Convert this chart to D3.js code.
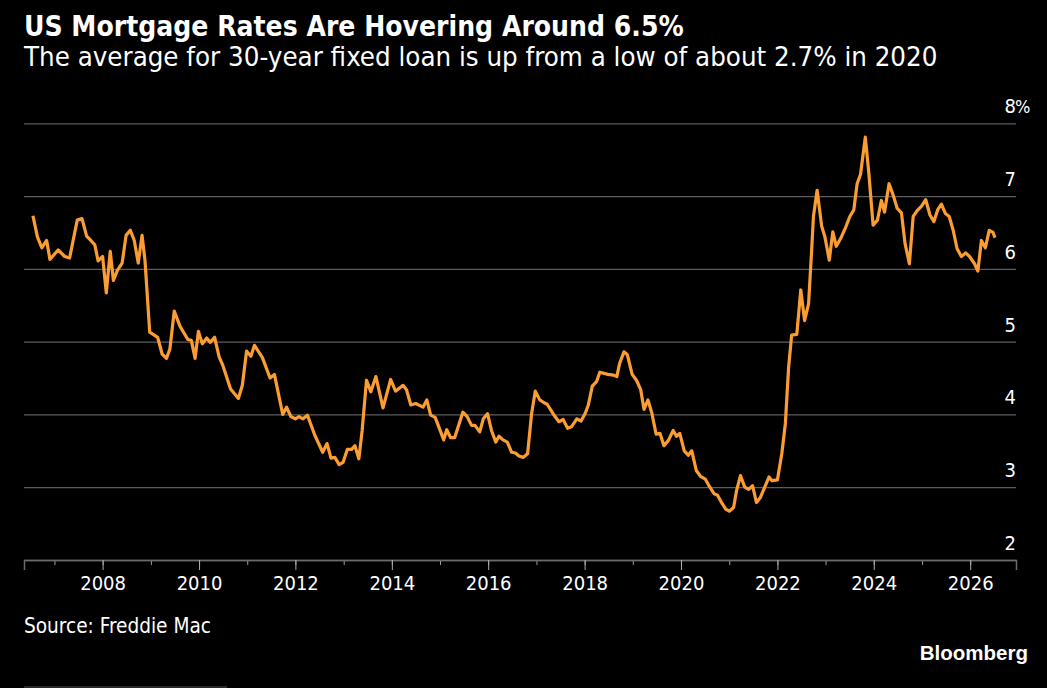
<!DOCTYPE html>
<html>
<head>
<meta charset="utf-8">
<script src="https://cdn.jsdelivr.net/npm/d3@7"></script>
<style>
  html, body { margin: 0; padding: 0; background: #000; }
  svg { display: block; }
  text { font-family: "DejaVu Sans Condensed", "DejaVu Sans", sans-serif; fill: #fff; }
</style>
</head>
<body>
<div id="chartContainer"></div>
<script>
/* US mortgage rates, 30-year fixed, Freddie Mac */

const titleText = "US Mortgage Rates Are Hovering Around 6.5%";
const subtitleText = "The average for 30-year fixed loan is up from a low of about 2.7% in 2020";
const sourceText = "Source: Freddie Mac";

const yTicks = [2, 3, 4, 5, 6, 7, 8];

const dates = [
  "2006-07-22", "2006-08-25", "2006-09-27", "2006-11-03", "2006-11-28",
  "2007-01-29", "2007-03-20", "2007-04-26", "2007-06-23", "2007-07-29",
  "2007-09-02", "2007-10-04", "2007-11-03", "2007-11-28", "2008-01-01",
  "2008-01-29", "2008-02-28", "2008-03-23", "2008-04-22", "2008-05-28",
  "2008-06-27", "2008-07-29", "2008-08-28", "2008-09-27", "2008-10-26",
  "2008-11-17", "2008-12-23", "2009-02-21", "2009-03-27", "2009-04-29",
  "2009-05-25", "2009-06-27", "2009-08-10", "2009-10-08", "2009-11-03",
  "2009-12-02", "2009-12-27", "2010-01-26", "2010-02-28", "2010-03-27",
  "2010-04-29", "2010-06-02", "2010-07-01", "2010-08-28", "2010-10-26",
  "2010-11-25", "2010-12-27", "2011-01-29", "2011-02-25", "2011-04-26",
  "2011-06-23", "2011-07-26", "2011-09-27", "2011-10-26", "2011-11-28",
  "2012-01-01", "2012-01-29", "2012-02-28", "2012-04-01", "2012-05-28",
  "2012-07-26", "2012-08-28", "2012-09-27", "2012-10-26", "2012-11-28",
  "2012-12-27", "2013-01-29", "2013-03-02", "2013-03-27", "2013-04-26",
  "2013-05-21", "2013-06-23", "2013-07-26", "2013-09-02", "2013-10-26",
  "2013-12-23", "2014-01-29", "2014-03-27", "2014-04-22", "2014-05-25",
  "2014-07-01", "2014-08-25", "2014-09-23", "2014-10-22", "2014-11-25",
  "2014-12-23", "2015-01-29", "2015-02-21", "2015-03-23", "2015-04-22",
  "2015-06-23", "2015-07-26", "2015-08-28", "2015-09-23", "2015-10-29",
  "2015-11-25", "2015-12-27", "2016-01-26", "2016-02-28", "2016-03-23",
  "2016-04-22", "2016-05-25", "2016-06-27", "2016-07-26", "2016-08-21",
  "2016-09-23", "2016-10-26", "2016-11-25", "2016-12-23", "2017-01-26",
  "2017-02-28", "2017-03-23", "2017-05-07", "2017-06-20", "2017-07-22",
  "2017-08-25", "2017-09-23", "2017-11-03", "2017-12-05", "2018-01-04",
  "2018-01-29", "2018-02-28", "2018-04-01", "2018-04-26", "2018-06-27",
  "2018-08-07", "2018-09-02", "2018-09-23", "2018-10-26", "2018-11-21",
  "2018-12-27", "2019-01-29", "2019-03-02", "2019-03-27", "2019-04-26",
  "2019-05-25", "2019-06-27", "2019-07-26", "2019-08-25", "2019-09-27",
  "2019-11-03", "2019-11-28", "2019-12-23", "2020-01-26", "2020-02-25",
  "2020-03-23", "2020-04-26", "2020-05-28", "2020-07-04", "2020-08-07",
  "2020-09-09", "2020-10-04", "2020-11-10", "2020-12-05", "2021-01-01",
  "2021-02-03", "2021-02-25", "2021-03-27", "2021-04-29", "2021-05-28",
  "2021-06-27", "2021-07-26", "2021-08-25", "2021-09-27", "2021-10-29",
  "2021-11-21", "2022-01-01", "2022-02-03", "2022-03-02", "2022-03-27",
  "2022-04-19", "2022-05-28", "2022-06-27", "2022-07-26", "2022-08-25",
  "2022-09-16", "2022-10-01", "2022-10-29", "2022-12-02", "2022-12-27",
  "2023-01-29", "2023-02-25", "2023-03-23", "2023-04-26", "2023-06-02",
  "2023-07-04", "2023-08-03", "2023-08-28", "2023-09-23", "2023-10-29",
  "2023-11-25", "2023-12-27", "2024-01-29", "2024-02-28", "2024-03-23",
  "2024-04-26", "2024-05-28", "2024-06-27", "2024-07-29", "2024-08-25",
  "2024-09-27", "2024-10-26", "2024-11-25", "2024-12-27", "2025-01-29",
  "2025-03-02", "2025-04-01", "2025-04-29", "2025-05-28", "2025-06-27",
  "2025-07-26", "2025-08-25", "2025-09-23", "2025-10-26", "2025-11-28",
  "2025-12-27", "2026-02-03", "2026-02-28", "2026-03-27", "2026-04-26",
  "2026-05-25", "2026-06-23", "2026-07-08"
];

const rates = [
  6.73, 6.44, 6.29, 6.39, 6.13,
  6.26, 6.17, 6.15, 6.67, 6.69,
  6.45, 6.39, 6.33, 6.11, 6.17,
  5.67, 6.24, 5.84, 5.98, 6.08,
  6.46, 6.53, 6.39, 6.08, 6.46,
  6.12, 5.13, 5.06, 4.83, 4.77,
  4.90, 5.42, 5.21, 5.03, 5.02,
  4.77, 5.14, 4.97, 5.05, 4.99,
  5.06, 4.79, 4.67, 4.35, 4.22,
  4.40, 4.87, 4.80, 4.95, 4.78,
  4.50, 4.55, 4.00, 4.10, 3.97,
  3.94, 3.97, 3.94, 3.99, 3.71,
  3.48, 3.60, 3.40, 3.41, 3.31,
  3.34, 3.52, 3.52, 3.57, 3.39,
  3.78, 4.47, 4.31, 4.52, 4.09,
  4.48, 4.32, 4.40, 4.34, 4.13,
  4.15, 4.10, 4.20, 3.99, 3.96,
  3.83, 3.65, 3.79, 3.68, 3.68,
  4.03, 3.97, 3.85, 3.85, 3.76,
  3.94, 4.01, 3.78, 3.62, 3.70,
  3.65, 3.62, 3.48, 3.47, 3.43,
  3.41, 3.46, 4.01, 4.32, 4.20,
  4.16, 4.14, 4.01, 3.90, 3.93,
  3.81, 3.83, 3.94, 3.91, 4.01,
  4.13, 4.39, 4.45, 4.58, 4.55,
  4.54, 4.52, 4.70, 4.86, 4.82,
  4.55, 4.47, 4.34, 4.07, 4.20,
  4.02, 3.73, 3.74, 3.57, 3.64,
  3.78, 3.70, 3.74, 3.50, 3.44,
  3.50, 3.23, 3.15, 3.11, 3.00,
  2.91, 2.89, 2.77, 2.70, 2.67,
  2.72, 2.95, 3.16, 3.00, 2.97,
  3.02, 2.79, 2.86, 3.00, 3.14,
  3.09, 3.10, 3.46, 3.87, 4.65,
  5.09, 5.10, 5.71, 5.29, 5.52,
  6.21, 6.72, 7.08, 6.59, 6.44,
  6.12, 6.51, 6.31, 6.42, 6.57,
  6.72, 6.81, 7.17, 7.30, 7.81,
  7.31, 6.60, 6.67, 6.94, 6.78,
  7.17, 7.01, 6.83, 6.77, 6.35,
  6.07, 6.72, 6.80, 6.86, 6.95,
  6.74, 6.65, 6.81, 6.89, 6.76,
  6.72, 6.53, 6.28, 6.17, 6.22,
  6.17, 6.07, 5.97, 6.39, 6.29,
  6.53, 6.50, 6.43
];

((d3) => {
  'use strict';

  const size = { width: 1047, height: 688 };
  const plot = { left: 24, right: 1016, top: 123.3, bottom: 560 };
  const lineColor = "#fb9d32";
  const gridColor = "#5c5c5c";

  const parseDate = d3.timeParse("%Y-%m-%d");
  const series = dates.map((d, i) => ({ x: parseDate(d), y: rates[i] }));

  const svg = d3.select("#chartContainer")
    .append("svg")
    .attr("width", size.width)
    .attr("height", size.height);

  svg.append("rect")
    .attr("width", size.width)
    .attr("height", size.height)
    .attr("fill", "#000");

  // x scale: calibrated on 2008 and 2026 ticks, then widened to the plot edges
  const xScale = d3.scaleTime()
    .domain([new Date(2008, 0, 1), new Date(2026, 0, 1)])
    .range([102.6, 970.2]);
  xScale.domain([xScale.invert(plot.left), xScale.invert(plot.right)])
    .range([plot.left, plot.right]);

  const yScale = d3.scaleLinear()
    .domain([2, 8])
    .range([plot.bottom, plot.top]);

  // titles
  svg.append("text")
    .attr("x", 24)
    .attr("y", 36)
    .style("font-weight", "bold")
    .style("font-size", "28px")
    .text(titleText);

  svg.append("text")
    .attr("x", 24)
    .attr("y", 66)
    .style("font-size", "27.4px")
    .text(subtitleText);

  // y grid + labels (labels sit above the line, right aligned)
  const yAxis = d3.axisLeft(yScale)
    .tickValues(yTicks)
    .tickSize(plot.right - plot.left)
    .tickFormat(d => d);

  const yGrid = svg.append("g")
    .attr("class", "y axis")
    .attr("transform", "translate(" + plot.right + ",0)")
    .call(yAxis);

  yGrid.select(".domain").remove();
  yGrid.selectAll(".tick line")
    .attr("stroke", gridColor)
    .attr("stroke-width", 1.3);
  yGrid.selectAll(".tick text")
    .attr("x", 0)
    .attr("y", -10.5)
    .attr("dy", 0)
    .attr("text-anchor", "end")
    .style("font-size", "20px")
    .attr("fill", "#fff");

  yGrid.selectAll(".tick")
    .filter(d => d === d3.max(yTicks))
    .append("text")
    .attr("x", -1)
    .attr("y", -10.5)
    .attr("text-anchor", "start")
    .style("font-size", "18px")
    .attr("fill", "#fff")
    .text("%");

  // x axis: odd years get a short tick, even years a long tick and label
  const xMinor = d3.axisBottom(xScale)
    .ticks(d3.timeYear.every(1))
    .tickSize(5)
    .tickFormat("");

  const xMajor = d3.axisBottom(xScale)
    .ticks(d3.timeYear.every(2))
    .tickSize(10)
    .tickPadding(6)
    .tickFormat(d3.timeFormat("%Y"));

  const xMinorG = svg.append("g")
    .attr("class", "x axis minor")
    .attr("transform", "translate(0," + plot.bottom + ")")
    .call(xMinor);
  xMinorG.select(".domain").remove();
  xMinorG.selectAll(".tick line").attr("stroke", "#9a9a9a");

  const xMajorG = svg.append("g")
    .attr("class", "x axis")
    .attr("transform", "translate(0," + plot.bottom + ")")
    .call(xMajor);
  xMajorG.select(".domain")
    .attr("stroke", "#6a6a6a")
    .attr("stroke-width", 1.5);
  xMajorG.selectAll(".tick line").attr("stroke", "#b0b0b0");
  xMajorG.selectAll(".tick text")
    .style("font-size", "20px")
    .attr("fill", "#fff");

  // the rate line
  const line = d3.line()
    .x(d => xScale(d.x))
    .y(d => yScale(d.y));

  svg.append("path")
    .datum(series)
    .attr("class", "line")
    .attr("fill", "none")
    .attr("stroke", lineColor)
    .attr("stroke-width", 3.2)
    .attr("stroke-linejoin", "round")
    .attr("d", line);

  // footer
  svg.append("text")
    .attr("x", 24)
    .attr("y", 633)
    .style("font-size", "20.6px")
    .text(sourceText);

  svg.append("text")
    .attr("x", 1028)
    .attr("y", 660)
    .attr("text-anchor", "end")
    .style("font-family", "'Liberation Sans', Arial, sans-serif")
    .style("font-weight", "bold")
    .style("font-size", "20.5px")
    .text("Bloomberg");

  svg.append("line")
    .attr("x1", 24)
    .attr("x2", 227)
    .attr("y1", 687)
    .attr("y2", 687)
    .attr("stroke", "#555")
    .attr("stroke-width", 1);

})(d3);
</script>
</body>
</html>
